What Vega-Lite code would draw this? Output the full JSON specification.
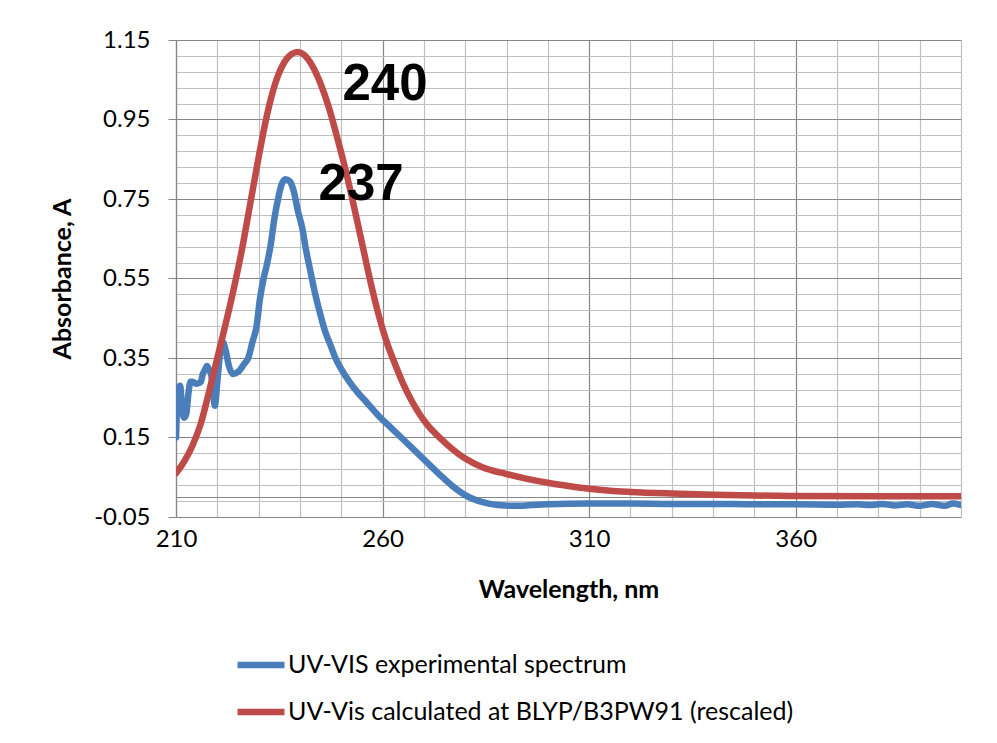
{
  "$schema": "https://vega.github.io/schema/vega-lite/v6.json",
  "width": 785,
  "height": 477,
  "autosize": {"type": "none"},
  "padding": {"left": 176, "top": 40, "right": 36, "bottom": 226},
  "background": "white",
  "config": {
    "view": {"stroke": null},
    "font": "Lato",
    "axis": {"labelFont": "Lato", "titleFont": "Lato", "labelColor": "#000000", "titleColor": "#000000"}
  },
  "datasets": {
    "spectra": [
      {"series": "UV-VIS experimental spectrum", "nm": 210, "A": 0.15},
      {"series": "UV-VIS experimental spectrum", "nm": 210.5, "A": 0.27},
      {"series": "UV-VIS experimental spectrum", "nm": 211, "A": 0.28},
      {"series": "UV-VIS experimental spectrum", "nm": 211.5, "A": 0.22},
      {"series": "UV-VIS experimental spectrum", "nm": 212, "A": 0.2},
      {"series": "UV-VIS experimental spectrum", "nm": 212.5, "A": 0.21},
      {"series": "UV-VIS experimental spectrum", "nm": 213, "A": 0.26},
      {"series": "UV-VIS experimental spectrum", "nm": 213.5, "A": 0.29},
      {"series": "UV-VIS experimental spectrum", "nm": 214, "A": 0.29},
      {"series": "UV-VIS experimental spectrum", "nm": 215, "A": 0.285},
      {"series": "UV-VIS experimental spectrum", "nm": 216, "A": 0.29},
      {"series": "UV-VIS experimental spectrum", "nm": 216.5, "A": 0.31},
      {"series": "UV-VIS experimental spectrum", "nm": 217, "A": 0.32},
      {"series": "UV-VIS experimental spectrum", "nm": 217.5, "A": 0.33},
      {"series": "UV-VIS experimental spectrum", "nm": 218, "A": 0.32},
      {"series": "UV-VIS experimental spectrum", "nm": 218.5, "A": 0.31},
      {"series": "UV-VIS experimental spectrum", "nm": 219, "A": 0.26},
      {"series": "UV-VIS experimental spectrum", "nm": 219.4, "A": 0.23},
      {"series": "UV-VIS experimental spectrum", "nm": 220, "A": 0.29},
      {"series": "UV-VIS experimental spectrum", "nm": 220.6, "A": 0.355},
      {"series": "UV-VIS experimental spectrum", "nm": 221.3, "A": 0.39},
      {"series": "UV-VIS experimental spectrum", "nm": 222, "A": 0.37},
      {"series": "UV-VIS experimental spectrum", "nm": 222.8, "A": 0.33},
      {"series": "UV-VIS experimental spectrum", "nm": 223.7, "A": 0.31},
      {"series": "UV-VIS experimental spectrum", "nm": 225, "A": 0.315},
      {"series": "UV-VIS experimental spectrum", "nm": 226.5, "A": 0.335},
      {"series": "UV-VIS experimental spectrum", "nm": 227.5, "A": 0.35},
      {"series": "UV-VIS experimental spectrum", "nm": 228.5, "A": 0.39},
      {"series": "UV-VIS experimental spectrum", "nm": 229.5, "A": 0.43},
      {"series": "UV-VIS experimental spectrum", "nm": 230.3, "A": 0.497},
      {"series": "UV-VIS experimental spectrum", "nm": 231.2, "A": 0.55},
      {"series": "UV-VIS experimental spectrum", "nm": 232, "A": 0.585},
      {"series": "UV-VIS experimental spectrum", "nm": 233, "A": 0.64},
      {"series": "UV-VIS experimental spectrum", "nm": 233.8, "A": 0.7},
      {"series": "UV-VIS experimental spectrum", "nm": 234.7, "A": 0.75},
      {"series": "UV-VIS experimental spectrum", "nm": 235.5, "A": 0.785},
      {"series": "UV-VIS experimental spectrum", "nm": 236.5, "A": 0.8},
      {"series": "UV-VIS experimental spectrum", "nm": 237.5, "A": 0.795},
      {"series": "UV-VIS experimental spectrum", "nm": 238.5, "A": 0.77},
      {"series": "UV-VIS experimental spectrum", "nm": 239.5, "A": 0.72},
      {"series": "UV-VIS experimental spectrum", "nm": 240.5, "A": 0.68},
      {"series": "UV-VIS experimental spectrum", "nm": 241.5, "A": 0.62},
      {"series": "UV-VIS experimental spectrum", "nm": 242.5, "A": 0.57},
      {"series": "UV-VIS experimental spectrum", "nm": 243.5, "A": 0.52},
      {"series": "UV-VIS experimental spectrum", "nm": 244.8, "A": 0.465},
      {"series": "UV-VIS experimental spectrum", "nm": 246, "A": 0.42},
      {"series": "UV-VIS experimental spectrum", "nm": 247.3, "A": 0.385},
      {"series": "UV-VIS experimental spectrum", "nm": 248.5, "A": 0.352},
      {"series": "UV-VIS experimental spectrum", "nm": 250, "A": 0.322},
      {"series": "UV-VIS experimental spectrum", "nm": 252, "A": 0.29},
      {"series": "UV-VIS experimental spectrum", "nm": 254, "A": 0.263},
      {"series": "UV-VIS experimental spectrum", "nm": 256, "A": 0.24},
      {"series": "UV-VIS experimental spectrum", "nm": 259, "A": 0.205},
      {"series": "UV-VIS experimental spectrum", "nm": 262, "A": 0.175},
      {"series": "UV-VIS experimental spectrum", "nm": 265, "A": 0.145},
      {"series": "UV-VIS experimental spectrum", "nm": 268, "A": 0.115},
      {"series": "UV-VIS experimental spectrum", "nm": 271, "A": 0.085},
      {"series": "UV-VIS experimental spectrum", "nm": 274, "A": 0.055},
      {"series": "UV-VIS experimental spectrum", "nm": 277, "A": 0.027},
      {"series": "UV-VIS experimental spectrum", "nm": 280, "A": 0.005},
      {"series": "UV-VIS experimental spectrum", "nm": 284, "A": -0.012},
      {"series": "UV-VIS experimental spectrum", "nm": 288, "A": -0.02},
      {"series": "UV-VIS experimental spectrum", "nm": 292, "A": -0.022},
      {"series": "UV-VIS experimental spectrum", "nm": 296, "A": -0.02},
      {"series": "UV-VIS experimental spectrum", "nm": 300, "A": -0.018},
      {"series": "UV-VIS experimental spectrum", "nm": 310, "A": -0.016},
      {"series": "UV-VIS experimental spectrum", "nm": 320, "A": -0.016},
      {"series": "UV-VIS experimental spectrum", "nm": 330, "A": -0.017},
      {"series": "UV-VIS experimental spectrum", "nm": 340, "A": -0.017},
      {"series": "UV-VIS experimental spectrum", "nm": 350, "A": -0.018},
      {"series": "UV-VIS experimental spectrum", "nm": 360, "A": -0.018},
      {"series": "UV-VIS experimental spectrum", "nm": 370, "A": -0.019},
      {"series": "UV-VIS experimental spectrum", "nm": 375, "A": -0.018},
      {"series": "UV-VIS experimental spectrum", "nm": 378, "A": -0.02},
      {"series": "UV-VIS experimental spectrum", "nm": 381, "A": -0.017},
      {"series": "UV-VIS experimental spectrum", "nm": 384, "A": -0.021},
      {"series": "UV-VIS experimental spectrum", "nm": 387, "A": -0.018},
      {"series": "UV-VIS experimental spectrum", "nm": 390, "A": -0.022},
      {"series": "UV-VIS experimental spectrum", "nm": 393, "A": -0.017},
      {"series": "UV-VIS experimental spectrum", "nm": 396, "A": -0.022},
      {"series": "UV-VIS experimental spectrum", "nm": 398, "A": -0.016},
      {"series": "UV-VIS experimental spectrum", "nm": 400, "A": -0.02},
      {"series": "UV-Vis calculated at BLYP/B3PW91 (rescaled)", "nm": 210, "A": 0.06},
      {"series": "UV-Vis calculated at BLYP/B3PW91 (rescaled)", "nm": 212, "A": 0.09},
      {"series": "UV-Vis calculated at BLYP/B3PW91 (rescaled)", "nm": 214, "A": 0.13},
      {"series": "UV-Vis calculated at BLYP/B3PW91 (rescaled)", "nm": 216, "A": 0.185},
      {"series": "UV-Vis calculated at BLYP/B3PW91 (rescaled)", "nm": 218, "A": 0.265},
      {"series": "UV-Vis calculated at BLYP/B3PW91 (rescaled)", "nm": 220, "A": 0.35},
      {"series": "UV-Vis calculated at BLYP/B3PW91 (rescaled)", "nm": 222, "A": 0.435},
      {"series": "UV-Vis calculated at BLYP/B3PW91 (rescaled)", "nm": 224, "A": 0.525},
      {"series": "UV-Vis calculated at BLYP/B3PW91 (rescaled)", "nm": 226, "A": 0.625},
      {"series": "UV-Vis calculated at BLYP/B3PW91 (rescaled)", "nm": 228, "A": 0.74},
      {"series": "UV-Vis calculated at BLYP/B3PW91 (rescaled)", "nm": 230, "A": 0.855},
      {"series": "UV-Vis calculated at BLYP/B3PW91 (rescaled)", "nm": 232, "A": 0.96},
      {"series": "UV-Vis calculated at BLYP/B3PW91 (rescaled)", "nm": 234, "A": 1.04},
      {"series": "UV-Vis calculated at BLYP/B3PW91 (rescaled)", "nm": 236, "A": 1.09},
      {"series": "UV-Vis calculated at BLYP/B3PW91 (rescaled)", "nm": 238, "A": 1.115},
      {"series": "UV-Vis calculated at BLYP/B3PW91 (rescaled)", "nm": 239.5, "A": 1.12},
      {"series": "UV-Vis calculated at BLYP/B3PW91 (rescaled)", "nm": 241, "A": 1.113},
      {"series": "UV-Vis calculated at BLYP/B3PW91 (rescaled)", "nm": 243, "A": 1.085},
      {"series": "UV-Vis calculated at BLYP/B3PW91 (rescaled)", "nm": 245, "A": 1.04},
      {"series": "UV-Vis calculated at BLYP/B3PW91 (rescaled)", "nm": 247, "A": 0.98},
      {"series": "UV-Vis calculated at BLYP/B3PW91 (rescaled)", "nm": 249, "A": 0.905},
      {"series": "UV-Vis calculated at BLYP/B3PW91 (rescaled)", "nm": 251, "A": 0.825},
      {"series": "UV-Vis calculated at BLYP/B3PW91 (rescaled)", "nm": 253, "A": 0.735},
      {"series": "UV-Vis calculated at BLYP/B3PW91 (rescaled)", "nm": 255, "A": 0.64},
      {"series": "UV-Vis calculated at BLYP/B3PW91 (rescaled)", "nm": 257, "A": 0.545},
      {"series": "UV-Vis calculated at BLYP/B3PW91 (rescaled)", "nm": 259, "A": 0.46},
      {"series": "UV-Vis calculated at BLYP/B3PW91 (rescaled)", "nm": 261, "A": 0.39},
      {"series": "UV-Vis calculated at BLYP/B3PW91 (rescaled)", "nm": 263, "A": 0.335},
      {"series": "UV-Vis calculated at BLYP/B3PW91 (rescaled)", "nm": 265, "A": 0.285},
      {"series": "UV-Vis calculated at BLYP/B3PW91 (rescaled)", "nm": 267, "A": 0.243},
      {"series": "UV-Vis calculated at BLYP/B3PW91 (rescaled)", "nm": 269, "A": 0.208},
      {"series": "UV-Vis calculated at BLYP/B3PW91 (rescaled)", "nm": 271, "A": 0.18},
      {"series": "UV-Vis calculated at BLYP/B3PW91 (rescaled)", "nm": 274, "A": 0.148},
      {"series": "UV-Vis calculated at BLYP/B3PW91 (rescaled)", "nm": 277, "A": 0.12},
      {"series": "UV-Vis calculated at BLYP/B3PW91 (rescaled)", "nm": 280, "A": 0.097},
      {"series": "UV-Vis calculated at BLYP/B3PW91 (rescaled)", "nm": 284, "A": 0.076},
      {"series": "UV-Vis calculated at BLYP/B3PW91 (rescaled)", "nm": 290, "A": 0.058},
      {"series": "UV-Vis calculated at BLYP/B3PW91 (rescaled)", "nm": 295, "A": 0.046},
      {"series": "UV-Vis calculated at BLYP/B3PW91 (rescaled)", "nm": 300, "A": 0.036},
      {"series": "UV-Vis calculated at BLYP/B3PW91 (rescaled)", "nm": 305, "A": 0.028},
      {"series": "UV-Vis calculated at BLYP/B3PW91 (rescaled)", "nm": 310, "A": 0.021},
      {"series": "UV-Vis calculated at BLYP/B3PW91 (rescaled)", "nm": 315, "A": 0.016},
      {"series": "UV-Vis calculated at BLYP/B3PW91 (rescaled)", "nm": 320, "A": 0.013},
      {"series": "UV-Vis calculated at BLYP/B3PW91 (rescaled)", "nm": 330, "A": 0.009},
      {"series": "UV-Vis calculated at BLYP/B3PW91 (rescaled)", "nm": 340, "A": 0.006},
      {"series": "UV-Vis calculated at BLYP/B3PW91 (rescaled)", "nm": 350, "A": 0.004},
      {"series": "UV-Vis calculated at BLYP/B3PW91 (rescaled)", "nm": 360, "A": 0.003},
      {"series": "UV-Vis calculated at BLYP/B3PW91 (rescaled)", "nm": 380, "A": 0.002},
      {"series": "UV-Vis calculated at BLYP/B3PW91 (rescaled)", "nm": 400, "A": 0.002}
    ],
    "labels": [
      {"nm": 260.6, "A": 1.0, "text": "240"},
      {"nm": 254.8, "A": 0.748, "text": "237"}
    ]
  },
  "encoding": {
    "x": {
      "field": "nm", "type": "quantitative",
      "scale": {"domain": [210, 400], "nice": false, "zero": false},
      "axis": {
        "values": [210, 220, 230, 240, 250, 260, 270, 280, 290, 300, 310, 320, 330, 340, 350, 360, 370, 380, 390, 400],
        "labelExpr": "(datum.value - 210) % 50 === 0 ? datum.label : ''",
        "labelFontSize": 24,
        "labelPadding": 10,
        "labelFlush": false,
        "labelOverlap": false,
        "ticks": false,
        "domain": false,
        "grid": true,
        "gridColor": {"condition": {"test": "(datum.value - 210) % 50 === 0", "value": "#868686"}, "value": "#c0c0c0"},
        "gridWidth": 1.2,
        "title": "Wavelength, nm",
        "titleFontSize": 25,
        "titleFontWeight": "bold",
        "titlePadding": 26
      }
    },
    "y": {
      "field": "A", "type": "quantitative",
      "scale": {"domain": [-0.05, 1.15], "nice": false, "zero": false},
      "axis": {
        "values": [-0.05, -0.01, 0, 0.03, 0.07, 0.11, 0.15, 0.19, 0.23, 0.27, 0.31, 0.35, 0.39, 0.43, 0.47, 0.51, 0.55, 0.59, 0.63, 0.67, 0.71, 0.75, 0.79, 0.83, 0.87, 0.91, 0.95, 0.99, 1.03, 1.07, 1.11, 1.15],
        "labelExpr": "abs((datum.value + 0.05) / 0.2 - round((datum.value + 0.05) / 0.2)) < 0.001 ? replace(format(datum.value, '.2f'), '\u2212', '-') : ''",
        "labelFontSize": 24,
        "labelPadding": 18,
        "labelFlush": false,
        "labelOverlap": false,
        "tickSize": 8,
        "tickColor": {"condition": {"test": "abs((datum.value + 0.05) / 0.2 - round((datum.value + 0.05) / 0.2)) < 0.001", "value": "#868686"}, "value": "transparent"},
        "domain": true,
        "domainColor": "#868686",
        "domainWidth": 1.2,
        "grid": true,
        "gridColor": {"condition": {"test": "datum.value === 0 || abs((datum.value + 0.05) / 0.2 - round((datum.value + 0.05) / 0.2)) < 0.001", "value": "#868686"}, "value": "#c0c0c0"},
        "gridWidth": 1.2,
        "title": "Absorbance, A",
        "titleFontSize": 25,
        "titleFontWeight": "bold",
        "titlePadding": 18
      }
    }
  },
  "layer": [
    {
      "data": {"name": "spectra"},
      "mark": {"type": "line", "strokeWidth": 6.5, "strokeJoin": "round", "strokeCap": "round", "interpolate": "monotone", "clip": true},
      "encoding": {
        "color": {
          "field": "series", "type": "nominal",
          "scale": {"domain": ["UV-VIS experimental spectrum", "UV-Vis calculated at BLYP/B3PW91 (rescaled)"], "range": ["#4a7ebb", "#be4b48"]},
          "legend": {
            "orient": "none",
            "legendX": 58,
            "legendY": 598,
            "title": null,
            "symbolType": "stroke",
            "symbolSize": 2209,
            "symbolStrokeWidth": 6.5,
            "labelFontSize": 25,
            "labelFont": "Lato",
            "labelColor": "#000000",
            "labelLimit": 0,
            "labelOffset": 0,
            "rowPadding": 7
          }
        }
      }
    },
    {
      "data": {"name": "labels"},
      "mark": {"type": "text", "font": "Liberation Sans", "fontWeight": "bold", "fontSize": 51, "align": "center", "baseline": "alphabetic", "color": "#000000"},
      "encoding": {
        "text": {"field": "text"}
      }
    }
  ]
}
